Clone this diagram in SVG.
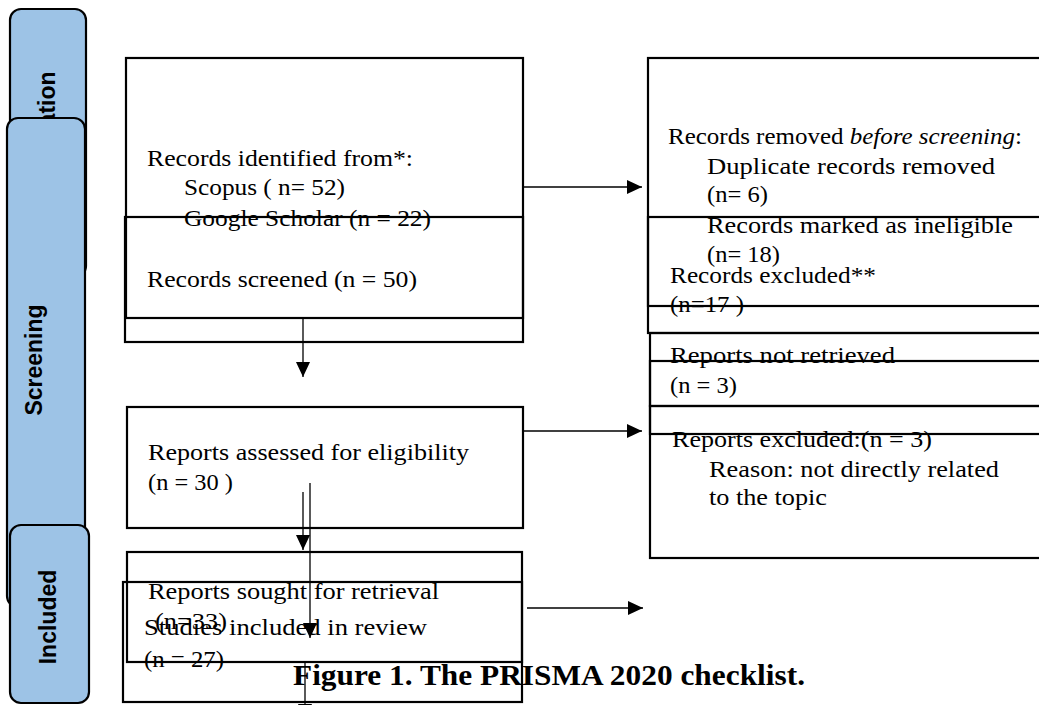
<svg xmlns="http://www.w3.org/2000/svg" width="1039" height="705" viewBox="0 0 1039 705">
<defs>
<style>
.tab{fill:#9DC3E6;stroke:#000;stroke-width:2.2}
.tabt{font-family:"Liberation Sans",Arial,sans-serif;font-weight:bold;font-size:23px;fill:#000;text-anchor:middle}
.box{fill:none;stroke:#000;stroke-width:2.2}
.t{font-family:"Liberation Serif","Times New Roman",serif;font-size:24px;fill:#000}
.cap{font-family:"Liberation Serif","Times New Roman",serif;font-size:29px;font-weight:bold;fill:#000}
.con{fill:none;stroke:#000;stroke-width:1.3}
</style>
<marker id="ah" markerUnits="userSpaceOnUse" markerWidth="15" markerHeight="14" refX="15" refY="7" orient="auto">
<path d="M0,0 L15,7 L0,14 z" fill="#000"/>
</marker>
</defs>
<rect width="1039" height="705" fill="#fff"/>

<g id="tab-identification">
<rect class="tab" x="10" y="9" width="76" height="268" rx="11"/>
<text class="tabt" transform="translate(55,143) rotate(-90)">Identification</text>
</g>
<g id="tab-screening">
<rect class="tab" x="7" y="118" width="78" height="489" rx="11"/>
<text class="tabt" transform="translate(42,360) rotate(-90)" font-size="22">Screening</text>
</g>
<g id="tab-included">
<rect class="tab" x="10" y="525" width="79" height="178" rx="11"/>
<text class="tabt" transform="translate(56,617) rotate(-90)">Included</text>
</g>

<g id="records-identified">
<rect class="box" x="126" y="58" width="397" height="260"/>
<text class="t" x="147" y="166" textLength="266" lengthAdjust="spacingAndGlyphs">Records identified from*:</text>
<text class="t" x="184" y="195" textLength="161" lengthAdjust="spacingAndGlyphs">Scopus ( n= 52)</text>
<text class="t" x="184" y="226" textLength="247" lengthAdjust="spacingAndGlyphs">Google Scholar (n = 22)</text>
</g>
<g id="records-screened">
<rect class="box" x="125" y="217" width="398" height="125"/>
<text class="t" x="147" y="287" textLength="270" lengthAdjust="spacingAndGlyphs">Records screened (n = 50)</text>
</g>
<g id="reports-assessed">
<rect class="box" x="127" y="407" width="396" height="121"/>
<text class="t" x="148" y="460" textLength="321" lengthAdjust="spacingAndGlyphs">Reports assessed for eligibility</text>
<text class="t" x="148" y="490" textLength="85" lengthAdjust="spacingAndGlyphs">(n = 30 )</text>
</g>
<g id="reports-sought">
<rect class="box" x="127" y="552" width="395" height="110"/>
<text class="t" x="148" y="599" textLength="291" lengthAdjust="spacingAndGlyphs">Reports sought for retrieval</text>
<text class="t" x="155" y="629" textLength="72" lengthAdjust="spacingAndGlyphs">(n=33)</text>
</g>
<g id="studies-included">
<rect class="box" x="123" y="582" width="399" height="120"/>
<text class="t" x="144" y="635" textLength="283" lengthAdjust="spacingAndGlyphs">Studies included in review</text>
<text class="t" x="144" y="667" textLength="80" lengthAdjust="spacingAndGlyphs">(n = 27)</text>
</g>

<g id="records-removed">
<rect class="box" x="648" y="58" width="400" height="275"/>
<text class="t" x="668" y="144" textLength="354" lengthAdjust="spacingAndGlyphs">Records removed <tspan font-style="italic">before screening</tspan>:</text>
<text class="t" x="707" y="174" textLength="288" lengthAdjust="spacingAndGlyphs">Duplicate records removed</text>
<text class="t" x="707" y="202" textLength="61" lengthAdjust="spacingAndGlyphs">(n= 6)</text>
<text class="t" x="707" y="233" textLength="306" lengthAdjust="spacingAndGlyphs">Records marked as ineligible</text>
<text class="t" x="707" y="262" textLength="73" lengthAdjust="spacingAndGlyphs">(n= 18)</text>
</g>
<g id="records-excluded">
<rect class="box" x="648" y="217" width="400" height="89"/>
<text class="t" x="670" y="283" textLength="206" lengthAdjust="spacingAndGlyphs">Records excluded**</text>
<text class="t" x="670" y="312" textLength="74" lengthAdjust="spacingAndGlyphs">(n=17 )</text>
</g>
<g id="reports-not-retrieved">
<rect class="box" x="650" y="333" width="400" height="73"/>
<rect class="box" x="650" y="361" width="400" height="73"/>
<text class="t" x="670" y="363" textLength="225" lengthAdjust="spacingAndGlyphs">Reports not retrieved</text>
<text class="t" x="670" y="393" textLength="67" lengthAdjust="spacingAndGlyphs">(n = 3)</text>
</g>
<g id="reports-excluded">
<rect class="box" x="650" y="406" width="400" height="152"/>
<text class="t" x="672" y="447" textLength="260" lengthAdjust="spacingAndGlyphs">Reports excluded:(n = 3)</text>
<text class="t" x="709" y="477" textLength="290" lengthAdjust="spacingAndGlyphs">Reason: not directly related</text>
<text class="t" x="709" y="505" textLength="118" lengthAdjust="spacingAndGlyphs">to the topic</text>
</g>

<g id="connectors">
<line class="con" x1="523" y1="187" x2="642" y2="187" marker-end="url(#ah)"/>
<line class="con" x1="523" y1="431" x2="642" y2="431" marker-end="url(#ah)"/>
<line class="con" x1="527" y1="608" x2="643" y2="608" marker-end="url(#ah)"/>
<line class="con" x1="303" y1="318" x2="303" y2="377" marker-end="url(#ah)"/>
<line class="con" x1="303" y1="492" x2="303" y2="550" marker-end="url(#ah)"/>
<line class="con" x1="310" y1="483" x2="310" y2="638" marker-end="url(#ah)"/>
<line class="con" x1="305" y1="662" x2="305" y2="719" marker-end="url(#ah)"/>
</g>

<text id="caption" class="cap" x="293" y="685" textLength="512" lengthAdjust="spacingAndGlyphs">Figure 1. The PRISMA 2020 checklist.</text>
</svg>
